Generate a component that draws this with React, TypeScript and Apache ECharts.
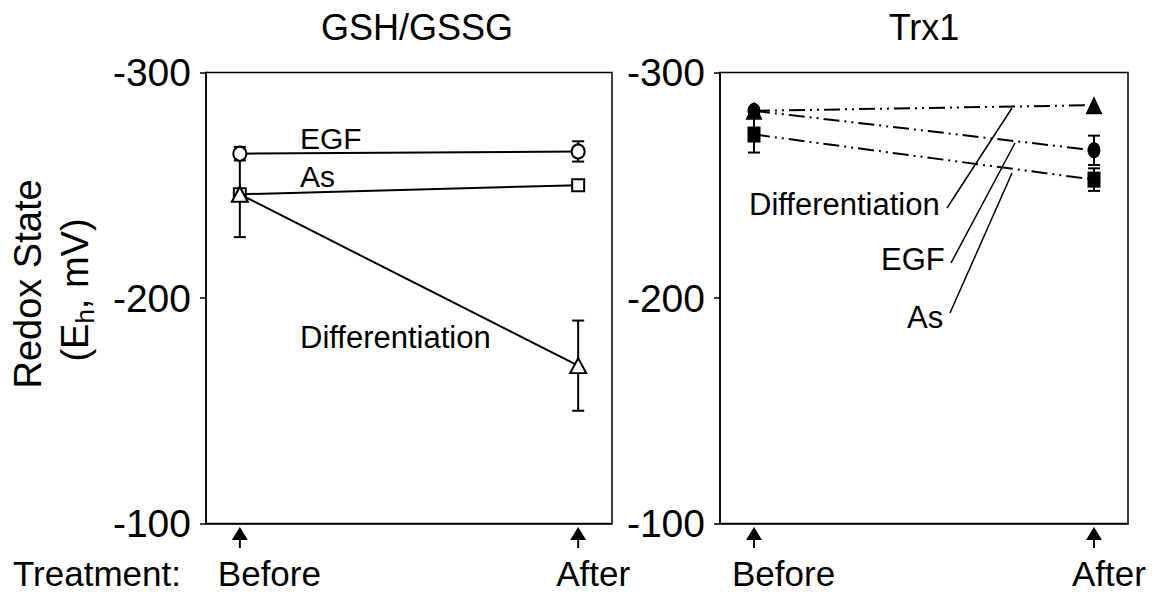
import React, { useEffect, useRef } from "react";
import * as echarts from "echarts";

// ---- data ----
const categories = ["Before", "After"];
const xPositions = [0, 1];
const yTicks = [-300, -200, -100];

const gshEGF = [-264, -265];
const gshEGFErr = [3, 4.5];
const gshAs = [-246, -250];
const gshAsErr = [0, 0];
const gshDiff = [-246, -170];
const gshDiffErr = [19, 20];

const trxDiff = [-283, -285.5];
const trxDiffErr = [0, 0];
const trxEGF = [-283, -265.5];
const trxEGFErr = [0, 6.5];
const trxAs = [-272.5, -252.5];
const trxAsErr = [8, 5];

const FONT = '"Liberation Sans", Arial, Helvetica, sans-serif';

const pts = (vals: number[]) => vals.map((v, i) => [xPositions[i], v]);
const errData = (vals: number[], errs: number[]) =>
  vals.map((v, i) => [xPositions[i], v - errs[i], v + errs[i]]).filter((d, i) => errs[i] > 0);

function errorSeries(idx: number, vals: number[], errs: number[]) {
  return {
    type: "custom",
    xAxisIndex: idx,
    yAxisIndex: idx,
    clip: false,
    z: 1,
    encode: { x: 0, y: [1, 2] },
    data: errData(vals, errs),
    renderItem: (params: any, api: any) => {
      const x = api.value(0);
      const lo = api.coord([x, api.value(1)]);
      const hi = api.coord([x, api.value(2)]);
      const cw = 6;
      const st = { stroke: "#000", lineWidth: 2 };
      return {
        type: "group",
        children: [
          { type: "line", shape: { x1: lo[0], y1: lo[1], x2: hi[0], y2: hi[1] }, style: st },
          { type: "line", shape: { x1: lo[0] - cw, y1: lo[1], x2: lo[0] + cw, y2: lo[1] }, style: st },
          { type: "line", shape: { x1: hi[0] - cw, y1: hi[1], x2: hi[0] + cw, y2: hi[1] }, style: st },
        ],
      };
    },
  };
}

// arrows under the axis and the treatment labels beside them
function arrowSeries(idx: number) {
  return {
    type: "custom",
    xAxisIndex: idx,
    yAxisIndex: idx,
    clip: false,
    silent: true,
    encode: { x: 0, y: 1 },
    data: xPositions.map((x) => [x, yTicks[yTicks.length - 1]]),
    renderItem: (params: any, api: any) => {
      const p = api.coord([api.value(0), api.value(1)]);
      const tip = p[1] + 3.5;
      return {
        type: "group",
        children: [
          {
            type: "polygon",
            shape: { points: [[p[0], tip], [p[0] - 8, tip + 13], [p[0] + 8, tip + 13]] },
            style: { fill: "#000" },
          },
          {
            type: "line",
            shape: { x1: p[0], y1: tip + 12, x2: p[0], y2: tip + 21 },
            style: { stroke: "#000", lineWidth: 2 },
          },
          {
            type: "text",
            x: p[0] - 22,
            y: 573,
            style: {
              text: categories[params.dataIndex],
              fill: "#000",
              fontSize: 35,
              fontFamily: FONT,
              align: "left",
              verticalAlign: "middle",
            },
          },
        ],
      };
    },
  };
}

function lineSeries(
  idx: number,
  name: string,
  vals: number[],
  symbol: string,
  size: any,
  filled: boolean,
  dashed: boolean
) {
  return {
    type: "line",
    name,
    xAxisIndex: idx,
    yAxisIndex: idx,
    data: pts(vals),
    symbol,
    symbolSize: size,
    showAllSymbol: true,
    z: 3,
    itemStyle: filled
      ? { color: "#000", borderColor: "#000", borderWidth: 0 }
      : { color: "#fff", borderColor: "#000", borderWidth: 2 },
    lineStyle: {
      color: "#000",
      width: 2,
      type: dashed ? [16, 5, 2, 5, 2, 5] : "solid",
    },
  };
}

const xAxisBase = (idx: number) => ({
  type: "value",
  gridIndex: idx,
  min: -0.1,
  max: 1.1,
  splitLine: { show: false },
  axisLine: { show: true, onZero: false, lineStyle: { color: "#000", width: 1.5 } },
  axisTick: { show: false },
  axisLabel: { show: false },
});

const yAxisBase = (idx: number) => ({
  type: "value",
  gridIndex: idx,
  min: yTicks[0],
  max: yTicks[yTicks.length - 1],
  interval: 100,
  inverse: true,
  splitLine: { show: false },
  axisLine: { show: true, onZero: false, lineStyle: { color: "#000", width: 1.5 } },
  axisTick: { show: true, inside: false, length: 6, lineStyle: { color: "#000", width: 1.5 } },
  axisLabel: { color: "#000", fontSize: 39, fontFamily: FONT, margin: 15, padding: [8, 0, 0, 0] },
});

export default function App() {
  const ref = useRef<HTMLDivElement>(null);
  useEffect(() => {
    document.body.style.margin = "0";
    if (!ref.current) return;
    const chart = echarts.init(ref.current, undefined, { renderer: "svg" });
    const txt = (text: string, x: number, y: number, size: number, align = "left") => ({
      type: "text",
      x,
      y,
      style: {
        text,
        fill: "#000",
        fontSize: size,
        fontFamily: FONT,
        align,
        verticalAlign: "middle",
      },
    });
    const leader = (x1: number, y1: number, x2: number, y2: number) => ({
      type: "line",
      shape: { x1, y1, x2, y2 },
      style: { stroke: "#000", lineWidth: 1.5 },
      z: 10,
    });
    chart.setOption({
      animation: false,
      backgroundColor: "#fff",
      grid: [
        { left: 206, top: 72.5, width: 406, height: 451, show: true, borderColor: "#000", borderWidth: 1.5, backgroundColor: "transparent" },
        { left: 720, top: 72.5, width: 408, height: 451, show: true, borderColor: "#000", borderWidth: 1.5, backgroundColor: "transparent" },
      ],
      xAxis: [xAxisBase(0), xAxisBase(1)],
      yAxis: [yAxisBase(0), yAxisBase(1)],
      series: [
        errorSeries(0, gshEGF, gshEGFErr),
        errorSeries(0, gshAs, gshAsErr),
        errorSeries(0, gshDiff, gshDiffErr),
        lineSeries(0, "EGF", gshEGF, "circle", [13, 14], false, false),
        lineSeries(0, "As", gshAs, "rect", 12, false, false),
        lineSeries(0, "Differentiation", gshDiff, "triangle", [16, 15], false, false),
        errorSeries(1, trxDiff, trxDiffErr),
        errorSeries(1, trxEGF, trxEGFErr),
        errorSeries(1, trxAs, trxAsErr),
        lineSeries(1, "EGF", trxEGF, "circle", [13, 16], true, true),
        lineSeries(1, "As", trxAs, "rect", [13, 16], true, true),
        lineSeries(1, "Differentiation", trxDiff, "triangle", [17, 18], true, true),
        arrowSeries(0),
        arrowSeries(1),
      ],
      graphic: [
        txt("GSH/GSSG", 417, 27, 36, "center"),
        txt("Trx1", 924, 27, 36, "center"),
        txt("Treatment:", 13, 573, 35, "left"),
        {
          type: "text",
          x: 28,
          y: 284,
          rotation: Math.PI / 2,
          style: { text: "Redox State", fill: "#000", fontSize: 38, fontFamily: FONT, align: "center", verticalAlign: "middle" },
        },
        {
          type: "text",
          x: 75,
          y: 290,
          rotation: Math.PI / 2,
          style: {
            text: "(E{sub|h}, mV)",
            fill: "#000",
            fontSize: 38,
            fontFamily: FONT,
            align: "center",
            verticalAlign: "middle",
            rich: { sub: { fontSize: 26, fontFamily: FONT, fill: "#000", verticalAlign: "bottom", padding: [20, 0, 0, 0] } },
          },
        },
        txt("EGF", 300, 138, 30),
        txt("As", 300, 176, 30),
        txt("Differentiation", 300, 337, 31),
        txt("Differentiation", 749, 204, 31),
        txt("EGF", 881, 259, 31),
        txt("As", 907, 317, 31),
        leader(947, 208, 1012, 108),
        leader(951, 263, 1015, 143),
        leader(950, 313, 1012, 173),
      ],
    });
    return () => chart.dispose();
  }, []);
  return <div ref={ref} style={{ width: 1155, height: 592 }} />;
}
